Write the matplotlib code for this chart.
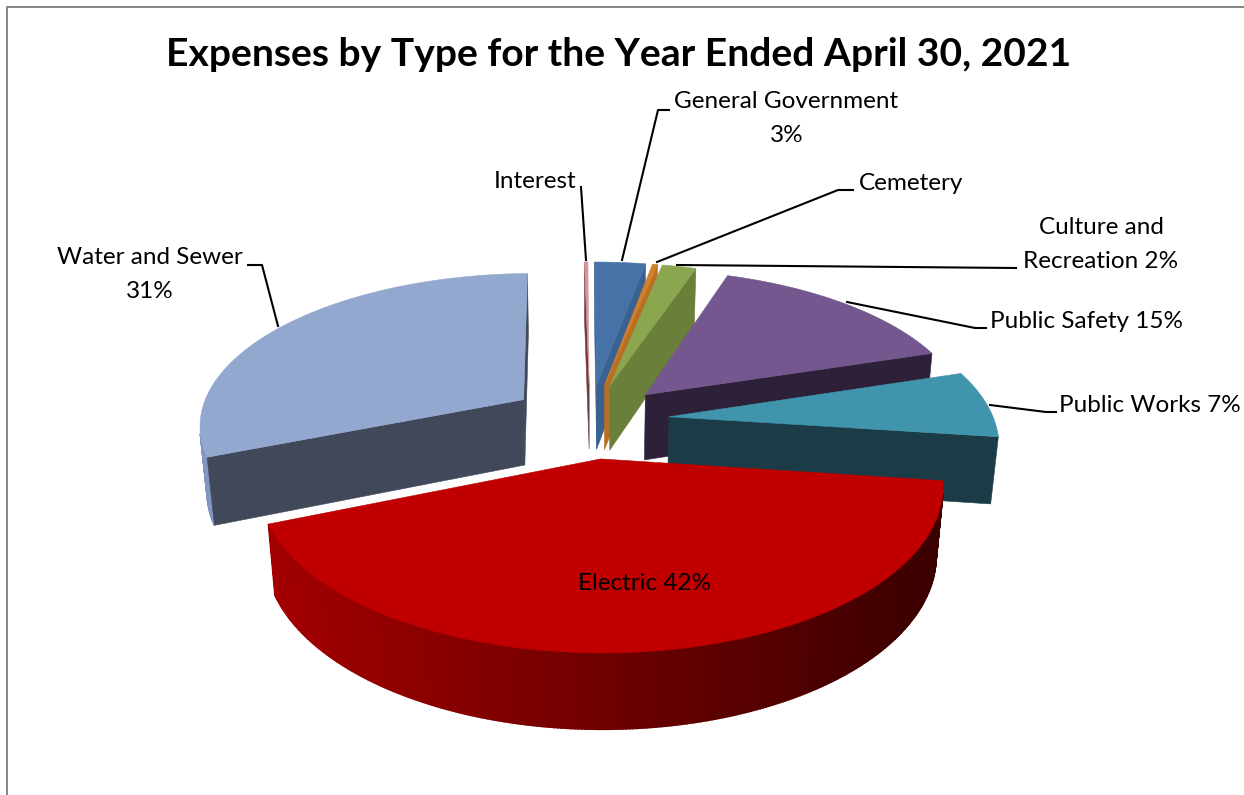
import numpy as np
import matplotlib
matplotlib.use("Agg")
import matplotlib.pyplot as plt
from matplotlib.patches import Polygon

# Expense shares, clockwise from the top of the pie
categories = ["Interest", "General Government", "Cemetery", "Culture and Recreation",
              "Public Safety", "Public Works", "Electric", "Water and Sewer"]
shares = [0.2, 3, 0.3, 2, 15, 7, 42, 31]
explode = [0.245, 0.245, 0.245, 0.245, 0.245, 0.245, 0.25, 0.25]
top_colors = ["#d99694", "#4672a8", "#d07f2a", "#8aa64f", "#73578e", "#4095ad", "#c00000", "#93a8cf"]
wall_colors = ["#6b3a3a", "#3a6291", "#b86f22", "#6a7f3a", "#2d213a", "#1b3c47", "#8a0000", "#404859"]
rim_left = ["#b07070", "#3a6291", "#b86f22", "#7a9040", "#4a3560", "#2a6578", "#a30000", "#8297bf"]
rim_right = ["#b07070", "#3a6291", "#b86f22", "#6a7f3a", "#2d213a", "#1b3c47", "#3a0000", "#8297bf"]

# Projection of the tilted pie
START_DEG = -1.0
THICK = 0.235
ELEV = np.radians(27.7)
DIST = 5.8
FOCAL = 325 * DIST
CX, CY = 590.0, 420.0


def project(x, y, z):
    v = y * np.sin(ELEV) + z * np.cos(ELEV)
    d = DIST + y * np.cos(ELEV) - z * np.sin(ELEV)
    return CX + FOCAL * x / d, CY - FOCAL * v / d


def signed_area(pts):
    p = np.asarray(pts)
    q = np.roll(p, -1, axis=0)
    return np.sum(p[:, 0] * q[:, 1] - q[:, 0] * p[:, 1])


def lerp_color(a, b, t):
    ca, cb = np.array(matplotlib.colors.to_rgb(a)), np.array(matplotlib.colors.to_rgb(b))
    return tuple(ca + (cb - ca) * t)


fig = plt.figure(figsize=(12.44, 7.95), dpi=100)
ax = fig.add_axes([0, 0, 1, 1])
ax.set_xlim(0, 1244)
ax.set_ylim(795, 0)
ax.axis("off")

fractions = np.array(shares) / np.sum(shares)
edges = START_DEG + 360 * np.concatenate([[0], np.cumsum(fractions)])
paint_order = [0, 1, 2, 3, 7, 4, 5, 6]


def add_face(pts, color, zorder, lw=0.4):
    if signed_area(pts) < 0:
        ax.add_patch(Polygon(pts, closed=True, facecolor=color, edgecolor=color,
                             linewidth=lw, zorder=zorder))


rank = 2
for i in paint_order:
    a0, a1 = np.radians(edges[i]), np.radians(edges[i + 1])
    mid = (a0 + a1) / 2
    ox, oy = explode[i] * np.sin(mid), explode[i] * np.cos(mid)
    theta = np.linspace(a0, a1, max(4, int(np.degrees(a1 - a0) * 2)))
    rx, ry = ox + np.sin(theta), oy + np.cos(theta)
    top = np.column_stack(project(rx, ry, 0.0))
    bot = np.column_stack(project(rx, ry, -THICK))
    apex_top = project(ox, oy, 0.0)
    apex_bot = project(ox, oy, -THICK)

    for j in range(len(theta) - 1):
        quad = [top[j], top[j + 1], bot[j + 1], bot[j]]
        t = np.clip((top[j, 0] - 270) / (943 - 270), 0, 1)
        add_face(quad, lerp_color(rim_left[i], rim_right[i], t), rank, lw=1.2)
    add_face([apex_top, top[0], bot[0], apex_bot], wall_colors[i], rank + 0.1)
    add_face([top[-1], apex_top, apex_bot, bot[-1]], wall_colors[i], rank + 0.1)
    ax.add_patch(Polygon(np.vstack([[apex_top], top]), closed=True, facecolor=top_colors[i],
                         edgecolor=top_colors[i], linewidth=0.4, zorder=rank + 0.2))
    rank += 1

# Chart frame, open at the right and bottom of the sheet
ax.plot([7, 7, 1244], [795, 6.5, 6.5], color="#868686", lw=1.4, zorder=1, solid_joinstyle="miter")

ax.text(618.5, 55, "Expenses by Type for the Year Ended April 30, 2021", family="Lato",
        fontweight="bold", fontsize=28.1, ha="center", va="center", color="black", zorder=30)

labels = [
    (786, 102, "General Government", "center"),
    (787, 135, "3%", "center"),
    (535, 181, "Interest", "center"),
    (911, 184, "Cemetery", "center"),
    (1101, 228, "Culture and", "center"),
    (1101, 261, "Recreation 2%", "center"),
    (1087, 321, "Public Safety 15%", "center"),
    (1150, 406, "Public Works 7%", "center"),
    (150, 258, "Water and Sewer", "center"),
    (150, 291, "31%", "center"),
    (645, 583, "Electric 42%", "center"),
]
for x, y, s, ha in labels:
    ax.text(x, y, s, family="Lato", fontsize=17.5, ha=ha, va="center", color="black", zorder=30)

leaders = [
    ([622, 658, 669], [260, 110, 110]),
    ([586, 581], [260, 187]),
    ([657, 838, 853], [262, 190, 190]),
    ([677, 1016], [265, 268]),
    ([847, 975, 986], [302, 328, 328]),
    ([990, 1046, 1056], [405, 412, 412]),
    ([278, 262, 248], [326, 265, 265]),
]
for xs, ys in leaders:
    ax.plot(xs, ys, color="black", lw=1.5, zorder=25)

fig.savefig("out.png", dpi=100, facecolor="white")
